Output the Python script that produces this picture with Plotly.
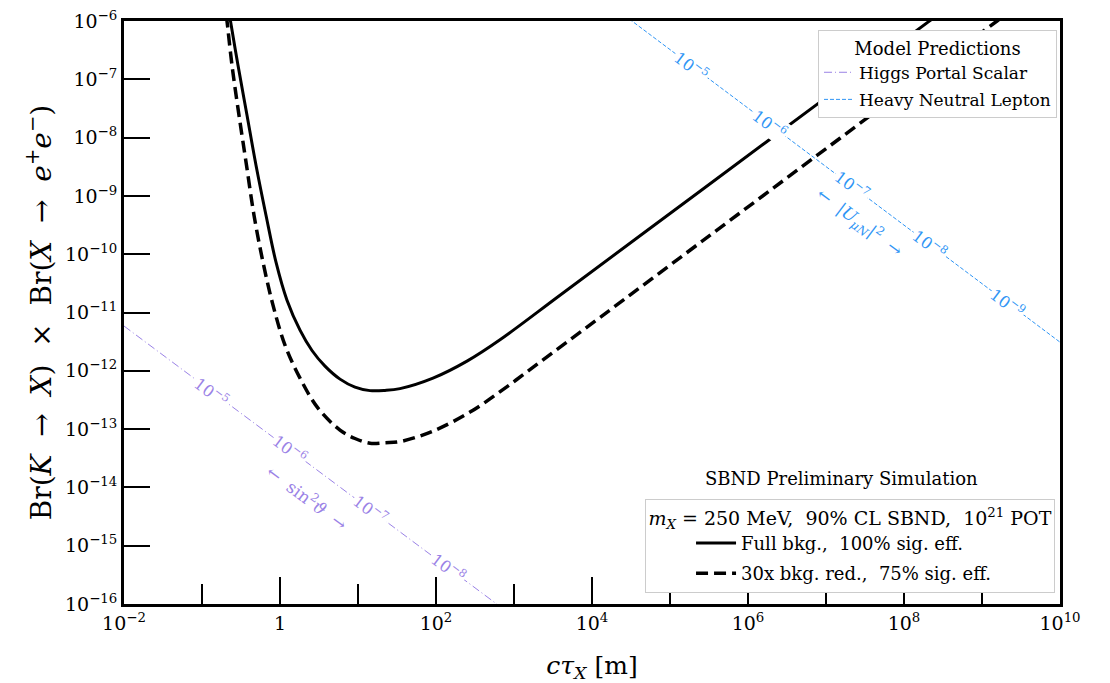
import numpy as np
import plotly.graph_objects as go

# ---------------- data ----------------
# Full bkg., 100% sig. eff. (solid)
ctau_full = [0.226, 0.2319, 0.2894, 0.3776, 0.4924, 0.6615, 0.8885, 1.229, 1.805, 2.572,
             3.775, 5.878, 9.150, 14.25, 22.19, 34.55, 91.5, 249.7, 661.6, 3888, 4.126e4,
             1.70e6, 2.031e7, 2.031e8, 2.495e8]
br_full = [1.23e-6, 1.0e-6, 1.739e-7, 2.417e-8, 3.357e-9, 4.666e-10, 7.295e-11, 1.626e-11,
           4.98e-12, 2.23e-12, 1.202e-12, 7.20e-13, 5.25e-13, 4.57e-13, 4.61e-13, 4.95e-13,
           7.49e-13, 1.466e-12, 3.41e-12, 1.98e-11, 2.07e-10, 8.32e-9, 9.78e-8, 9.57e-7,
           1.175e-6]

# 30x bkg. red., 75% sig. eff. (dashed)
ctau_red = [0.2048, 0.2092, 0.2424, 0.2980, 0.3720, 0.4642, 0.6054, 0.8134, 1.159, 1.805,
            3.070, 5.878, 9.150, 14.25, 22.19, 34.55, 91.5, 272.9, 766.8, 2154, 1.266e4,
            2.424e5, 1.512e7, 1.557e9, 1.914e9]
br_red = [1.23e-6, 1.0e-6, 1.739e-7, 2.417e-8, 3.357e-9, 4.666e-10, 7.295e-11, 1.336e-11,
          2.754e-12, 7.485e-13, 2.291e-13, 9.61e-14, 6.9e-14, 5.72e-14, 5.85e-14, 6.1e-14,
          9.24e-14, 1.956e-13, 5.05e-13, 1.41e-12, 8.22e-12, 1.57e-10, 9.75e-9, 1.0e-6,
          1.227e-6]

# Model prediction lines
ctau_hnl = [2.6e4, 1.0e10]
br_hnl = [1.25e-6, 3.1e-12]
ctau_higgs = [0.01, 760]
br_higgs = [5.86e-12, 7.9e-17]

# Contour-style labels along model lines
hnl_label_ctau = [1.91e5, 1.91e6, 2.15e7, 2.15e8, 2.15e9]
hnl_label_br = [1.69e-7, 1.67e-8, 1.48e-9, 1.46e-10, 1.45e-11]
hnl_label_text = ["10<sup>−5</sup>", "10<sup>−6</sup>", "10<sup>−7</sup>",
                  "10<sup>−8</sup>", "10<sup>−9</sup>"]
higgs_label_ctau = [0.134, 1.34, 14.3, 143]
higgs_label_br = [4.31e-13, 4.43e-14, 4.2e-15, 4.23e-16]
higgs_label_text = ["10<sup>−5</sup>", "10<sup>−6</sup>", "10<sup>−7</sup>", "10<sup>−8</sup>"]

hnl_arrow_pos = (2.73e7, 3.55e-10)
higgs_arrow_pos = (2.22, 6.87e-15)

# Axis ticks
x_major = [1e-2, 1, 1e2, 1e4, 1e6, 1e8, 1e10]
x_major_text = ["10<sup>−2</sup>", "1", "10<sup>2</sup>", "10<sup>4</sup>",
                "10<sup>6</sup>", "10<sup>8</sup>", "10<sup>10</sup>"]
x_minor = [1e-1, 1e1, 1e3, 1e5, 1e7, 1e9]
y_major = [1e-6, 1e-7, 1e-8, 1e-9, 1e-10, 1e-11, 1e-12, 1e-13, 1e-14, 1e-15, 1e-16]
y_major_text = ["10<sup>−%d</sup>" % k for k in range(6, 17)]

# ---------------- styling ----------------
BLUE = "#2f95f5"
PURPLE = "#9a82e6"
FONT = "DejaVu Serif"
NB = "\u00a0"
# the page body has an 8px margin, so the figure is sized to fit the 1110x683 window
W, H = 1102, 675
ML, MR, MT, MB = 116, 50, 13, 79
pw, ph = W - ML - MR, H - MT - MB
angle = np.degrees(np.arctan((ph / 10.0) / (pw / 12.0)))

fig = go.Figure()

fig.add_trace(go.Scatter(x=ctau_higgs, y=br_higgs, mode="lines", name="Higgs Portal Scalar",
                         line=dict(color=PURPLE, width=1, dash="8px,3px,1px,3px"),
                         legend="legend", legendgroup="a"))
fig.add_trace(go.Scatter(x=ctau_hnl, y=br_hnl, mode="lines", name="Heavy Neutral Lepton",
                         line=dict(color=BLUE, width=1, dash="4px,2px"),
                         legend="legend", legendgroup="b"))
fig.add_trace(go.Scatter(x=ctau_full, y=br_full, mode="lines",
                         name="Full bkg.," + NB * 2 + "100% sig. eff.",
                         line=dict(color="black", width=3, shape="spline", smoothing=1.0),
                         legend="legend2", legendgroup="c"))
fig.add_trace(go.Scatter(x=ctau_red, y=br_red, mode="lines",
                         name="30x bkg. red.," + NB * 2 + "75% sig. eff.",
                         line=dict(color="black", width=3.5, dash="12px,6px",
                                   shape="spline", smoothing=1.0),
                         legend="legend2", legendgroup="d"))

annotations = []
for xv, yv, t in zip(hnl_label_ctau, hnl_label_br, hnl_label_text):
    annotations.append(dict(x=np.log10(xv), y=np.log10(yv), xref="x", yref="y", text=t,
                            showarrow=False, textangle=angle, bgcolor="white", borderpad=1,
                            xanchor="center", yanchor="middle",
                            font=dict(family=FONT, size=16, color=BLUE)))
for xv, yv, t in zip(higgs_label_ctau, higgs_label_br, higgs_label_text):
    annotations.append(dict(x=np.log10(xv), y=np.log10(yv), xref="x", yref="y", text=t,
                            showarrow=False, textangle=angle, bgcolor="white", borderpad=1,
                            xanchor="center", yanchor="middle",
                            font=dict(family=FONT, size=16, color=PURPLE)))
annotations.append(dict(x=np.log10(hnl_arrow_pos[0]), y=np.log10(hnl_arrow_pos[1]),
                        xref="x", yref="y", xanchor="center", yanchor="middle",
                        text="←" + NB * 2 + "|<i>U</i><sub><i>μN</i></sub>|<sup>2</sup>" + NB * 2 + "→",
                        showarrow=False, textangle=angle,
                        font=dict(family=FONT, size=17, color=BLUE)))
annotations.append(dict(x=np.log10(higgs_arrow_pos[0]), y=np.log10(higgs_arrow_pos[1]),
                        xref="x", yref="y", xanchor="center", yanchor="middle",
                        text="←" + NB * 2 + "sin<sup>2</sup><i>ϑ</i>" + NB * 2 + "→",
                        showarrow=False, textangle=angle,
                        font=dict(family=FONT, size=17, color=PURPLE)))
annotations.append(dict(x=0.767, y=0.216, xref="paper", yref="paper",
                        xanchor="center", yanchor="middle",
                        text="SBND Preliminary Simulation", showarrow=False,
                        font=dict(family=FONT, size=18, color="black")))

axis_common = dict(type="log", showline=True, linewidth=3, linecolor="black", mirror=True,
                   ticks="inside", tickwidth=2, tickcolor="black", showgrid=False,
                   zeroline=False, tickmode="array", automargin=False,
                   ticklabeloverflow="allow",
                   tickfont=dict(family=FONT, size=19, color="black"))

ytitle = ("Br(<i>K</i>" + NB * 2 + "→" + NB * 2 + "<i>X</i>)" + NB * 2 + "×" + NB * 2 +
          "Br(<i>X</i>" + NB * 2 + "→" + NB * 2 +
          "<i>e</i><sup>+</sup><i>e</i><sup>−</sup>)" + NB * 4)

fig.update_layout(
    width=W, height=H,
    margin=dict(l=ML, r=MR, t=MT, b=MB),
    plot_bgcolor="white", paper_bgcolor="white",
    font=dict(family=FONT, color="black"),
    xaxis=dict(axis_common, range=[-2, 10], tickvals=x_major, ticktext=x_major_text,
               ticklen=27,
               minor=dict(tickmode="array", tickvals=x_minor, ticks="inside", ticklen=20,
                          tickwidth=1.5, tickcolor="black"),
               title=dict(text="<i>cτ</i><sub><i>X</i></sub>" + NB + "[m]",
                          font=dict(family=FONT, size=25), standoff=26)),
    yaxis=dict(axis_common, range=[-16, -6], tickvals=y_major, ticktext=y_major_text,
               ticklen=26,
               title=dict(text=ytitle, font=dict(family=FONT, size=28), standoff=6)),
    legend=dict(x=0.9968, y=0.984, xanchor="right", yanchor="top",
                bgcolor="white", bordercolor="#cccccc", borderwidth=1,
                font=dict(family=FONT, size=17),
                title=dict(text="Model Predictions", side="top center",
                           font=dict(family=FONT, size=18)),
                traceorder="grouped", tracegroupgap=2, itemwidth=30),
    legend2=dict(x=0.9947, y=0.0189, xanchor="right", yanchor="bottom",
                 bgcolor="white", bordercolor="#cccccc", borderwidth=1,
                 font=dict(family=FONT, size=18), indentation=45,
                 title=dict(text="<i>m</i><sub><i>X</i></sub>" + NB + "=" + NB + "250 MeV," + NB * 2 +
                                 "90% CL SBND," + NB * 2 + "10<sup>21</sup> POT",
                            side="top center", font=dict(family=FONT, size=19)),
                 traceorder="grouped", tracegroupgap=4, itemwidth=40),
    annotations=annotations,
)

fig.write_html("out.html")
